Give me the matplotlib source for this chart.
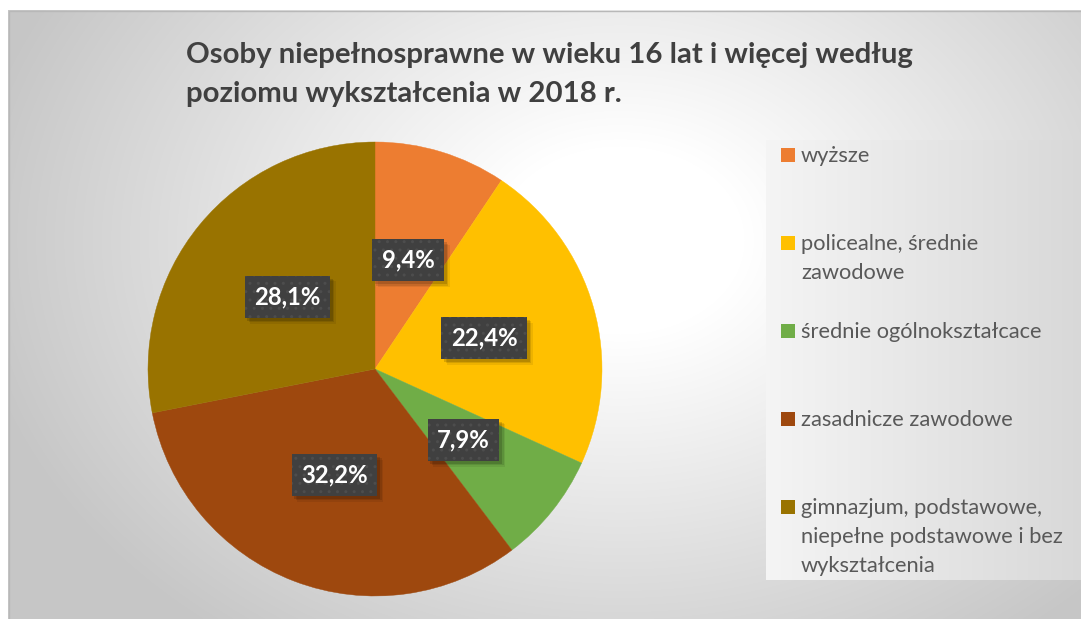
import numpy as np
import matplotlib
matplotlib.use("Agg")
import matplotlib.pyplot as plt
from matplotlib import patheffects as pe
from matplotlib.patches import Rectangle

# ---------------- data ----------------
categories = ["wyższe",
              "policealne, średnie\nzawodowe",
              "średnie ogólnokształcace",
              "zasadnicze zawodowe",
              "gimnazjum, podstawowe,\nniepełne podstawowe i bez\nwykształcenia"]
values = [9.4, 22.4, 7.9, 32.2, 28.1]
value_labels = ["9,4%", "22,4%", "7,9%", "32,2%", "28,1%"]
colors = ["#ED7D31", "#FFC000", "#70AD47", "#9E480E", "#997300"]
title_lines = ["Osoby niepełnosprawne w wieku 16 lat i więcej według",
               "poziomu wykształcenia w 2018 r."]

FONT = ["Lato", "DejaVu Sans"]
W, H = 1081, 619
fig = plt.figure(figsize=(W / 100, H / 100), dpi=100)
fig.patch.set_facecolor("white")
renderer = fig.canvas.get_renderer()


def fit(text, target_px, **kw):
    t = fig.text(0, 0, text, fontsize=10, **kw)
    w = t.get_window_extent(renderer).width
    t.remove()
    return 10 * target_px / w


# ---------------- background (pixel coords, y down) ----------------
bg = fig.add_axes([0, 0, 1, 1], zorder=0)
bg.set_xlim(0, W)
bg.set_ylim(H, 0)
bg.axis("off")

x0, y0 = 8, 10
yy, xx = np.mgrid[y0:H, x0:W].astype(float)
d = np.sqrt(((xx - 620) / 620) ** 2 + ((yy - 240) / 470) ** 2)
t = np.clip((d - 0.2) / 0.85, 0, 1)
val = 1 - t * (1 - 0.78)
img = np.dstack([val, val, val])
bg.imshow(img, extent=(x0, W, H, y0), interpolation="bilinear", aspect="auto")
bg.add_patch(Rectangle((x0 + 0.5, y0 + 0.5), W - x0, H - y0, fill=False,
                       ec="#b8b8b8", lw=1.0))

# legend panel
lx0, lx1, ly0, ly1 = 766, W, 140, 580
gy, gx = np.mgrid[ly0:ly1, lx0:lx1].astype(float)
lv = 0.958 - 0.11 * (gx - lx0) / (lx1 - lx0)
bg.imshow(np.dstack([lv, lv, lv]), extent=(lx0, lx1, ly1, ly0),
          interpolation="bilinear", aspect="auto")
bg.set_xlim(0, W)
bg.set_ylim(H, 0)

# ---------------- title ----------------
tsize = fit(title_lines[0], 731, family=FONT, weight="bold")
for i, line in enumerate(title_lines):
    bg.text(186, 63 + i * 39, line, fontsize=tsize, family=FONT,
            weight="bold", color="#404040", va="baseline", ha="left")

# ---------------- legend ----------------
lsize = fit("zasadnicze zawodowe", 213, family=FONT)
for i, (cat, col) in enumerate(zip(categories, colors)):
    base = 161.5 + i * 88.1
    bg.add_patch(Rectangle((781, base - 14), 14, 14, fc=col, ec="none"))
    for j, line in enumerate(cat.split("\n")):
        bg.text(801, base + j * 29.3, line, fontsize=lsize, family=FONT,
                color="#595959", va="baseline", ha="left")

# ---------------- pie ----------------
cx, cy, R = 375, 369, 227
ax = fig.add_axes([(cx - R) / W, (H - cy - R) / H, 2 * R / W, 2 * R / H], zorder=2)
wedges, _ = ax.pie(values, colors=colors, startangle=90, counterclock=False,
                   radius=1, wedgeprops=dict(linewidth=0))
for w in wedges:
    w.set_edgecolor(w.get_facecolor())
    w.set_linewidth(0.3)
ax.set_xlim(-1, 1)
ax.set_ylim(-1, 1)
ax.axis("off")


class Shadow(pe.AbstractPathEffect):
    def __init__(self, offset=(3, -3), alpha=0.12):
        super().__init__(offset)
        self.alpha = alpha

    def draw_path(self, renderer, gc, tpath, affine, rgbFace=None):
        gc0 = renderer.new_gc()
        gc0.copy_properties(gc)
        gc0.set_hatch(None)
        gc0.set_linewidth(0)
        gc0.set_alpha(self.alpha)
        renderer.draw_path(gc0, tpath, affine + self._offset_transform(renderer),
                           (0, 0, 0))
        gc0.restore()


vsize = fit("22,4%", 67, family=FONT, weight="bold")
for w, lab in zip(wedges, value_labels):
    ang = np.deg2rad((w.theta1 + w.theta2) / 2)
    txt = ax.text(0.5 * np.cos(ang), 0.5 * np.sin(ang), lab, fontsize=vsize,
                  family=FONT, weight="bold", color="white",
                  ha="center", va="center", zorder=5,
                  bbox=dict(boxstyle="square,pad=0.4", fc="#404040",
                            ec="#4d4d4d", lw=0, hatch=".."))
    txt.get_bbox_patch().set_path_effects(
        [Shadow((2, -2), 0.14), Shadow((3, -3), 0.1), Shadow((4, -4), 0.07),
         pe.Normal()])

fig.savefig("out.png", dpi=100)
